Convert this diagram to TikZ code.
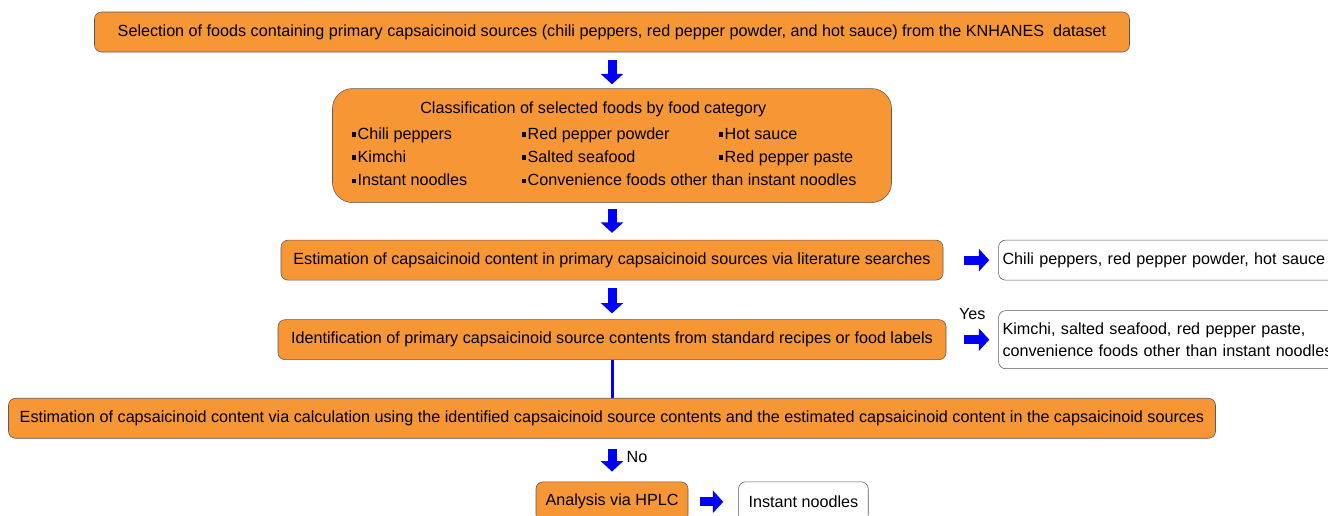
\documentclass[tikz,border=0pt]{standalone}
\usepackage{fontspec}
\setmainfont{Liberation Sans}
\usetikzlibrary{arrows.meta, positioning}
\definecolor{boxorange}{RGB}{247,150,52}
\definecolor{boxline}{RGB}{90,90,90}
\newcommand{\sqitem}{\rule[0.25ex]{0.3em}{0.3em}\hspace{0.08em}}

\begin{document}
\begin{tikzpicture}[
    node distance=1cm,
    font=\fontsize{11.5}{13.5}\selectfont,
    box/.style={draw=boxline, fill=boxorange, rounded corners=0.175cm, minimum height=1cm, align=center, inner xsep=0.2cm},
    outbox/.style={draw=boxline, fill=white, rounded corners=0.175cm, minimum height=1cm, align=left, inner xsep=0.1cm},
    fatarrow/.style={draw=blue, line width=0.225cm, -{Triangle[width=0.55cm, length=0.26cm]}},
    link/.style={draw=blue, line width=0.075cm}
]
\useasboundingbox (0,0) rectangle (33.2,-12.875);
\clip (0,0) rectangle (33.2,-12.875);

% Fluxo principal
\node[box, minimum width=25.875cm] (sel) at (15.3,-0.8) {Selection of foods containing primary capsaicinoid sources (chili peppers, red pepper powder, and hot sauce) from the KNHANES\ \ dataset};
\node[box, rounded corners=0.5cm, minimum width=13.975cm, minimum height=2.85cm, below=0.9cm of sel] (cls) {%
  \begin{tabular}{@{}p{4.25cm}@{}p{4.925cm}@{}p{3.85cm}@{}}
  \multicolumn{3}{@{}l@{}}{\hspace{1.72cm}Classification of selected foods by food category}\\[5pt]
  \sqitem Chili peppers & \sqitem Red pepper powder & \sqitem Hot sauce\\[3pt]
  \sqitem Kimchi & \sqitem Salted seafood & \sqitem Red pepper paste\\[3pt]
  \sqitem Instant noodles & \multicolumn{2}{@{}l@{}}{\sqitem Convenience foods other than instant noodles}
  \end{tabular}};
\node[box, minimum width=16.55cm, below=0.925cm of cls] (est) {Estimation of capsaicinoid content in primary capsaicinoid sources via literature searches};
\node[box, minimum width=16.7cm, below=0.975cm of est] (iden) {Identification of primary capsaicinoid source contents from standard recipes or food labels};
\node[box, minimum width=30.175cm, below=0.95cm of iden] (calc) {Estimation of capsaicinoid content via calculation using the identified capsaicinoid source contents and the estimated capsaicinoid content in the capsaicinoid sources};
\node[box, minimum width=3.8cm, below=1.075cm of calc] (hplc) {Analysis via HPLC};

% Resultados
\node[outbox, text width=8.4cm, right=1.375cm of est] (lit) {Chili peppers, red pepper powder, hot sauce};
\node[outbox, text width=8.4cm, minimum height=1.45cm, right=1.3cm of iden, font=\fontsize{11.5}{15.5}\selectfont] (rec) {Kimchi, salted seafood, red pepper paste,\\ convenience foods other than instant noodles};
\node[outbox, inner xsep=0.25cm, right=1.25cm of hplc] (noodle) {Instant noodles};

% Setas
\draw[fatarrow, shorten <=0.2cm, shorten >=0.1cm] (sel) -- (cls);
\draw[fatarrow, shorten <=0.15cm, shorten >=0.175cm] (cls) -- (est);
\draw[fatarrow, shorten <=0.2cm, shorten >=0.15cm] (est) -- (iden);
\draw[link] (iden) -- (calc);
\draw[fatarrow, shorten <=0.25cm, shorten >=0.25cm] (calc) -- node[right=0.135cm, yshift=0.08cm] (no) {No} (hplc);
\draw[fatarrow, shorten <=0.525cm, shorten >=0.225cm] (est) -- (lit);
\draw[fatarrow, shorten <=0.45cm, shorten >=0.225cm] (iden) -- node[above=0.27cm] (yes) {Yes} (rec);
\draw[fatarrow, shorten <=0.3cm, shorten >=0.375cm] (hplc) -- (noodle);

\end{tikzpicture}
\end{document}
